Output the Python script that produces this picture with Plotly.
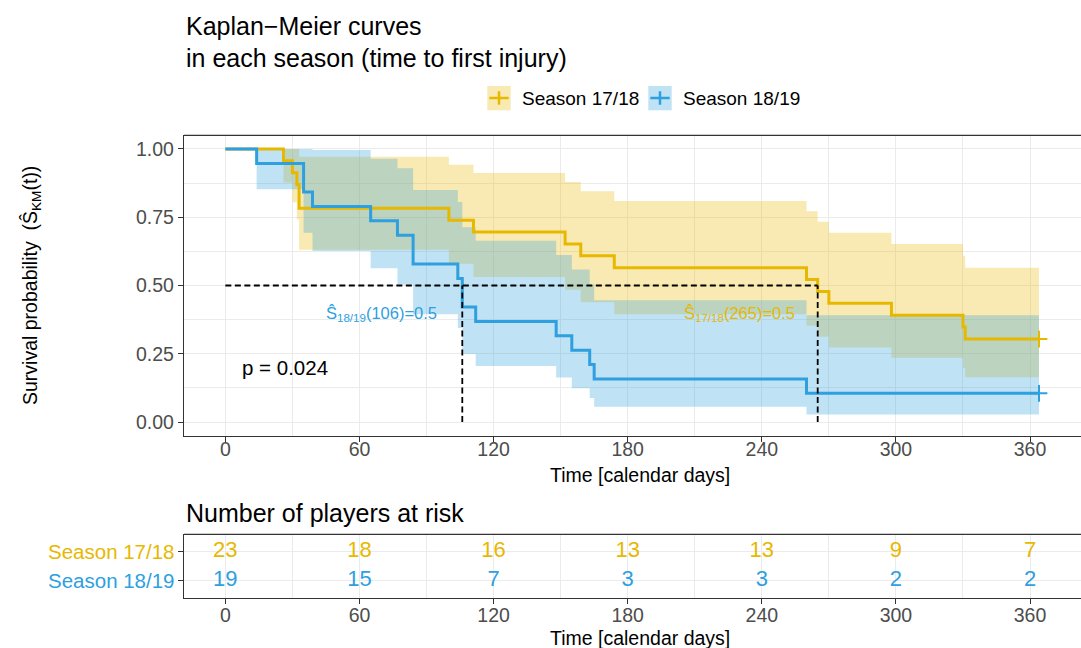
import plotly.graph_objects as go

# ---- Kaplan-Meier estimates (time to first injury) ----
# Season 17/18 (n = 23)
t_1718 = [0, 26, 30, 32, 33, 100, 111, 152, 159, 174, 260, 265, 270, 298, 330, 331, 364]
s_1718 = [1.0, 0.957, 0.913, 0.870, 0.783, 0.739, 0.696, 0.652, 0.609, 0.565,
          0.522, 0.478, 0.435, 0.391, 0.348, 0.304, 0.304]
up_1718 = [1.0, 1.0, 1.0, 1.0, 0.971, 0.942, 0.912, 0.879, 0.845, 0.809,
           0.772, 0.733, 0.693, 0.652, 0.609, 0.565, 0.565]
lo_1718 = [1.0, 0.877, 0.805, 0.742, 0.631, 0.580, 0.531, 0.484, 0.439, 0.395,
           0.353, 0.312, 0.273, 0.235, 0.199, 0.164, 0.164]

# Season 18/19 (n = 19)
t_1819 = [0, 14, 35, 39, 65, 77, 84, 104, 106, 112, 148, 155, 163, 165, 260, 364]
s_1819 = [1.0, 0.947, 0.842, 0.789, 0.737, 0.684, 0.579, 0.526, 0.421, 0.368,
          0.316, 0.263, 0.211, 0.158, 0.105, 0.105]
up_1819 = [1.0, 1.0, 1.0, 0.996, 0.964, 0.929, 0.850, 0.806, 0.713, 0.664,
           0.612, 0.559, 0.503, 0.446, 0.391, 0.391]
lo_1819 = [1.0, 0.852, 0.693, 0.626, 0.563, 0.504, 0.395, 0.344, 0.249, 0.205,
           0.163, 0.124, 0.088, 0.056, 0.028, 0.028]

# Median survival times
median_1718 = 265
median_1819 = 106

# Number at risk table
risk_times = [0, 60, 120, 180, 240, 300, 360]
risk_1718 = [23, 18, 16, 13, 13, 9, 7]
risk_1819 = [19, 15, 7, 3, 3, 2, 2]

groups = ["Season 17/18", "Season 18/19"]
p_value = "p = 0.024"

YELLOW = "#E7B800"
BLUE = "#2E9FDF"
YELLOW_FILL = "rgba(231,184,0,0.30)"
BLUE_FILL = "rgba(46,159,223,0.30)"
FONT = "Liberation Sans, Arial, sans-serif"
GRID = "#EBEBEB"
FRAME = "#333333"
TICKTXT = "#4D4D4D"

W, H = 1081, 648


def fx(x):
    return x / W


def fy(y):
    return 1 - y / H


X_RANGE = [-18.5, 382.8]
PANEL_L = 184

fig = go.Figure()

# confidence ribbons
for t, up, lo, fill in [(t_1718, up_1718, lo_1718, YELLOW_FILL),
                        (t_1819, up_1819, lo_1819, BLUE_FILL)]:
    fig.add_trace(go.Scatter(x=t, y=up, mode="lines", line=dict(width=0, shape="hv"),
                             showlegend=False, hoverinfo="skip", xaxis="x", yaxis="y"))
    fig.add_trace(go.Scatter(x=t, y=lo, mode="lines", line=dict(width=0, shape="hv"),
                             fill="tonexty", fillcolor=fill, showlegend=False,
                             hoverinfo="skip", xaxis="x", yaxis="y"))

# survival step curves
for t, s, col, name in [(t_1718, s_1718, YELLOW, groups[0]),
                        (t_1819, s_1819, BLUE, groups[1])]:
    fig.add_trace(go.Scatter(x=t, y=s, mode="lines", name=name,
                             line=dict(color=col, width=3, shape="hv"),
                             showlegend=False, xaxis="x", yaxis="y"))
    # censoring mark at the end of follow-up
    fig.add_trace(go.Scatter(x=[t[-1]], y=[s[-1]], mode="markers",
                             marker=dict(symbol="cross-thin", size=12,
                                         line=dict(color=col, width=2)),
                             showlegend=False, xaxis="x", yaxis="y"))

# median survival lines
dash_line = dict(color="black", width=1.8, dash="6px,3.5px")
fig.add_trace(go.Scatter(x=[0, max(median_1718, median_1819)], y=[0.5, 0.5], mode="lines",
                         line=dash_line, showlegend=False, xaxis="x", yaxis="y"))
for m in (median_1819, median_1718):
    fig.add_trace(go.Scatter(x=[m, m], y=[0, 0.5], mode="lines", line=dash_line,
                             showlegend=False, xaxis="x", yaxis="y"))

# number-at-risk table
for vals, row, col in [(risk_1718, 2, YELLOW), (risk_1819, 1, BLUE)]:
    fig.add_trace(go.Scatter(x=risk_times, y=[row] * len(risk_times), mode="text",
                             text=[str(v) for v in vals],
                             textfont=dict(family=FONT, size=22, color=col),
                             textposition="middle center", showlegend=False,
                             xaxis="x2", yaxis="y2"))

axis_common = dict(
    range=X_RANGE, tick0=0, dtick=60, ticks="outside", ticklen=5, tickwidth=1.2,
    tickcolor=FRAME, showline=True, linecolor=FRAME, linewidth=1.3,
    showgrid=True, gridcolor=GRID, gridwidth=1.1, zeroline=False,
    tickfont=dict(family=FONT, size=19.5, color=TICKTXT),
    minor=dict(dtick=30, tick0=0, showgrid=True, gridcolor=GRID, gridwidth=0.6),
)

fig.update_layout(
    width=W, height=H,
    margin=dict(l=0, r=0, t=0, b=0),
    paper_bgcolor="white", plot_bgcolor="white",
    font=dict(family=FONT, color="black"),
    xaxis=dict(domain=[fx(PANEL_L), 1.0], anchor="y", ticklabelstandoff=-9,
               **axis_common),
    yaxis=dict(domain=[fy(435.7), fy(135.3)], anchor="x", range=[-0.05, 1.05],
               tick0=0, dtick=0.25, tickformat=".2f", ticks="outside", ticklen=5,
               tickwidth=1.2, tickcolor=FRAME, showline=True, linecolor=FRAME,
               linewidth=1.3, showgrid=True, gridcolor=GRID, gridwidth=1.1,
               zeroline=False, tickfont=dict(family=FONT, size=19.5, color=TICKTXT),
               minor=dict(dtick=0.125, tick0=0, showgrid=True, gridcolor=GRID,
                          gridwidth=0.6)),
    xaxis2=dict(domain=[fx(PANEL_L), 1.0], anchor="y2", ticklabelstandoff=-6,
                **axis_common),
    yaxis2=dict(domain=[fy(598.3), fy(534.3)], anchor="x2", range=[0.4, 2.6],
                tickvals=[1, 2], showticklabels=False, ticks="outside", ticklen=5,
                tickwidth=1.2, tickcolor=FRAME, showline=True, linecolor=FRAME,
                linewidth=1.3, showgrid=True, gridcolor=GRID, gridwidth=1.1,
                zeroline=False),
)

# top borders of the two panels
for ytop in (135.3, 534.3):
    fig.add_shape(type="line", xref="paper", yref="paper", x0=fx(PANEL_L), x1=1.0,
                  y0=fy(ytop), y1=fy(ytop), line=dict(color=FRAME, width=1.3))

ann = []
# titles
ann.append(dict(text="Kaplan\u2212Meier curves", x=fx(184), y=fy(25.5), xanchor="left",
                yanchor="middle", font=dict(size=25)))
ann.append(dict(text="in each season (time to first injury)", x=fx(184), y=fy(57.5),
                xanchor="left", yanchor="middle", font=dict(size=25)))
ann.append(dict(text="Number of players at risk", x=fx(184), y=fy(512.5), xanchor="left",
                yanchor="middle", font=dict(size=25)))
# axis titles
ann.append(dict(text="Time [calendar days]", x=fx(639.5), y=fy(475), xanchor="center",
                yanchor="middle", font=dict(size=19.5)))
ann.append(dict(text="Time [calendar days]", x=fx(639.5), y=fy(637.5), xanchor="center",
                yanchor="middle", font=dict(size=19.5)))
ann.append(dict(text="Survival probability  (\u015c<sub>KM</sub>(t))", x=fx(31),
                y=fy(286), xanchor="center", yanchor="middle", textangle=-90,
                font=dict(size=19.5)))
# risk table row labels
ann.append(dict(text=groups[0], x=fx(176.5), y=fy(551.5), xanchor="right", yanchor="middle",
                font=dict(size=20.5, color=YELLOW)))
ann.append(dict(text=groups[1], x=fx(176.5), y=fy(580.5), xanchor="right", yanchor="middle",
                font=dict(size=20.5, color=BLUE)))
# p-value and median labels (data coordinates)
ann.append(dict(text=p_value, x=6.7, y=0.2, xref="x", yref="y", xanchor="left",
                yanchor="middle", font=dict(size=20.5)))
ann.append(dict(text=f"\u015c<sub>18/19</sub>({median_1819})=0.5", x=70, y=0.395, xref="x",
                yref="y", xanchor="center", yanchor="middle",
                font=dict(size=16.5, color=BLUE)))
ann.append(dict(text=f"\u015c<sub>17/18</sub>({median_1718})=0.5", x=230, y=0.395, xref="x",
                yref="y", xanchor="center", yanchor="middle",
                font=dict(size=16.5, color=YELLOW)))

# legend: key boxes with a cross, followed by labels
for x0, fill, col, label in [(487.3, YELLOW_FILL, YELLOW, groups[0]),
                             (648.3, BLUE_FILL, BLUE, groups[1])]:
    fig.add_shape(type="rect", xref="paper", yref="paper", x0=fx(x0), x1=fx(x0 + 23.4),
                  y0=fy(110.3), y1=fy(86), fillcolor=fill, line=dict(width=0))
    fig.add_shape(type="line", xref="paper", yref="paper", x0=fx(x0 + 2), x1=fx(x0 + 21.4),
                  y0=fy(98), y1=fy(98), line=dict(color=col, width=2.5))
    fig.add_shape(type="line", xref="paper", yref="paper", x0=fx(x0 + 11.7), x1=fx(x0 + 11.7),
                  y0=fy(91.3), y1=fy(104.7), line=dict(color=col, width=2.5))
    ann.append(dict(text=label, x=fx(x0 + 33), y=fy(98.5), xanchor="left",
                    yanchor="middle", font=dict(size=19)))

for a in ann:
    a.setdefault("xref", "paper")
    a.setdefault("yref", "paper")
    a["showarrow"] = False
    f = a.setdefault("font", {})
    f.setdefault("family", FONT)
    f.setdefault("color", "black")
fig.update_layout(annotations=ann)

fig.write_html("out.html")
